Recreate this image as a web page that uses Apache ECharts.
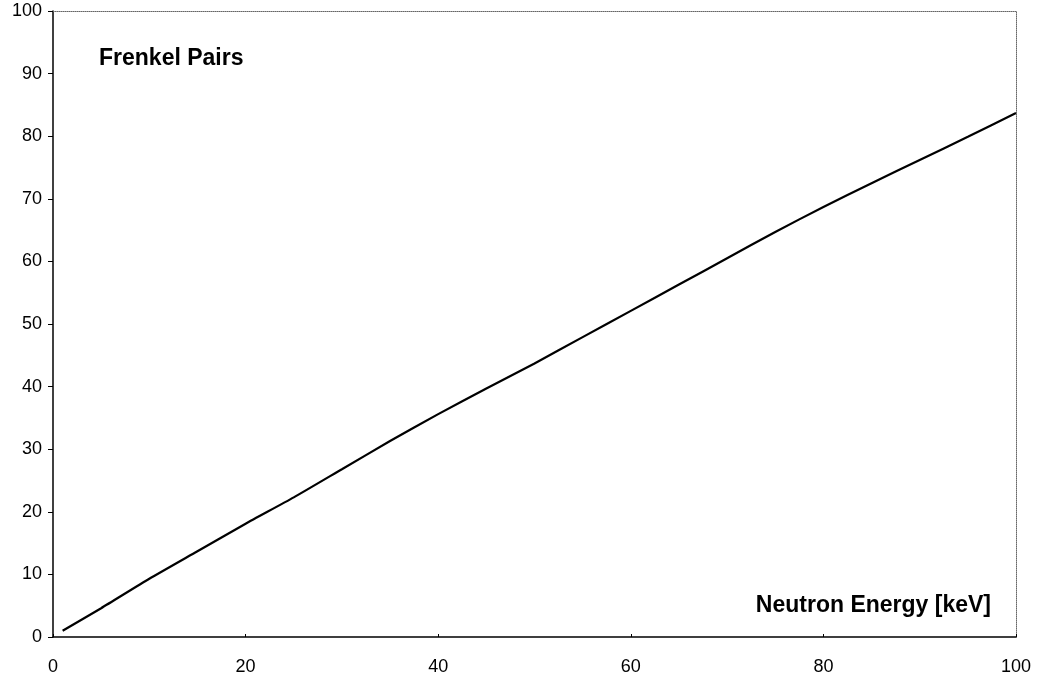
<!DOCTYPE html>
<html>
<head>
<meta charset="utf-8">
<script src="https://cdn.jsdelivr.net/npm/echarts@6/dist/echarts.min.js"></script>
<style>
  html, body { margin: 0; padding: 0; background: #fff; }
  #chart { width: 1038px; height: 682px; }
</style>
</head>
<body>
<div id="chart"></div>
<script>
// Neutron energy (keV) and the resulting number of Frenkel pairs
const energyKeV = [1, 5, 10, 15, 20, 25, 30, 35, 40, 45, 50, 55, 60, 65, 70, 75, 80, 85, 90, 95, 100];
const frenkelPairs = [1.0, 4.6, 9.3, 13.7, 18.1, 22.3, 26.8, 31.3, 35.6, 39.7, 43.7, 47.9, 52.1, 56.3, 60.5, 64.7, 68.7, 72.5, 76.2, 79.9, 83.7];
const yTicks = [0, 10, 20, 30, 40, 50, 60, 70, 80, 90, 100];
const xTicks = [0, 20, 40, 60, 80, 100];

const font = '"Liberation Sans", Arial, sans-serif';
const chart = echarts.init(document.getElementById('chart'), null, { renderer: 'canvas' });

chart.setOption({
  animation: false,
  backgroundColor: '#fff',
  grid: { left: 53, right: 22, top: 11, bottom: 45 },
  xAxis: [{
    type: 'value',
    min: xTicks[0],
    max: xTicks[xTicks.length - 1],
    interval: 20,
    axisLine: { show: true, lineStyle: { color: '#000', width: 1.5 } },
    axisTick: { show: true, inside: true, length: 3, lineStyle: { color: '#000' } },
    axisLabel: { color: '#000', fontFamily: font, fontSize: 18, margin: 21 },
    splitLine: { show: false }
  }, {
    type: 'value',
    position: 'top',
    min: 0, max: 100,
    axisLine: { show: true, onZero: false, lineStyle: { color: '#666', width: 1, type: 'dotted' } },
    axisTick: { show: false },
    axisLabel: { show: false },
    splitLine: { show: false }
  }],
  yAxis: [{
    type: 'value',
    min: yTicks[0],
    max: yTicks[yTicks.length - 1],
    interval: 10,
    axisLine: { show: true, lineStyle: { color: '#000', width: 1.5 } },
    axisTick: { show: true, length: 5, lineStyle: { color: '#000' } },
    axisLabel: { color: '#000', fontFamily: font, fontSize: 18, margin: 11 },
    splitLine: { show: false }
  }, {
    type: 'value',
    position: 'right',
    min: 0, max: 100,
    axisLine: { show: true, onZero: false, lineStyle: { color: '#666', width: 1, type: 'dotted' } },
    axisTick: { show: false },
    axisLabel: { show: false },
    splitLine: { show: false }
  }],
  graphic: [{
    type: 'text',
    left: 99,
    top: 47,
    style: { text: 'Frenkel Pairs', fill: '#000', font: 'bold 23px ' + font }
  }, {
    type: 'text',
    right: 47,
    top: 594,
    style: { text: 'Neutron Energy [keV]', fill: '#000', font: 'bold 23px ' + font }
  }],
  series: [{
    type: 'line',
    xAxisIndex: 0,
    yAxisIndex: 0,
    data: energyKeV.map((e, i) => [e, frenkelPairs[i]]),
    showSymbol: false,
    smooth: 0.2,
    lineStyle: { color: '#000', width: 2.2 }
  }]
});
</script>
</body>
</html>
